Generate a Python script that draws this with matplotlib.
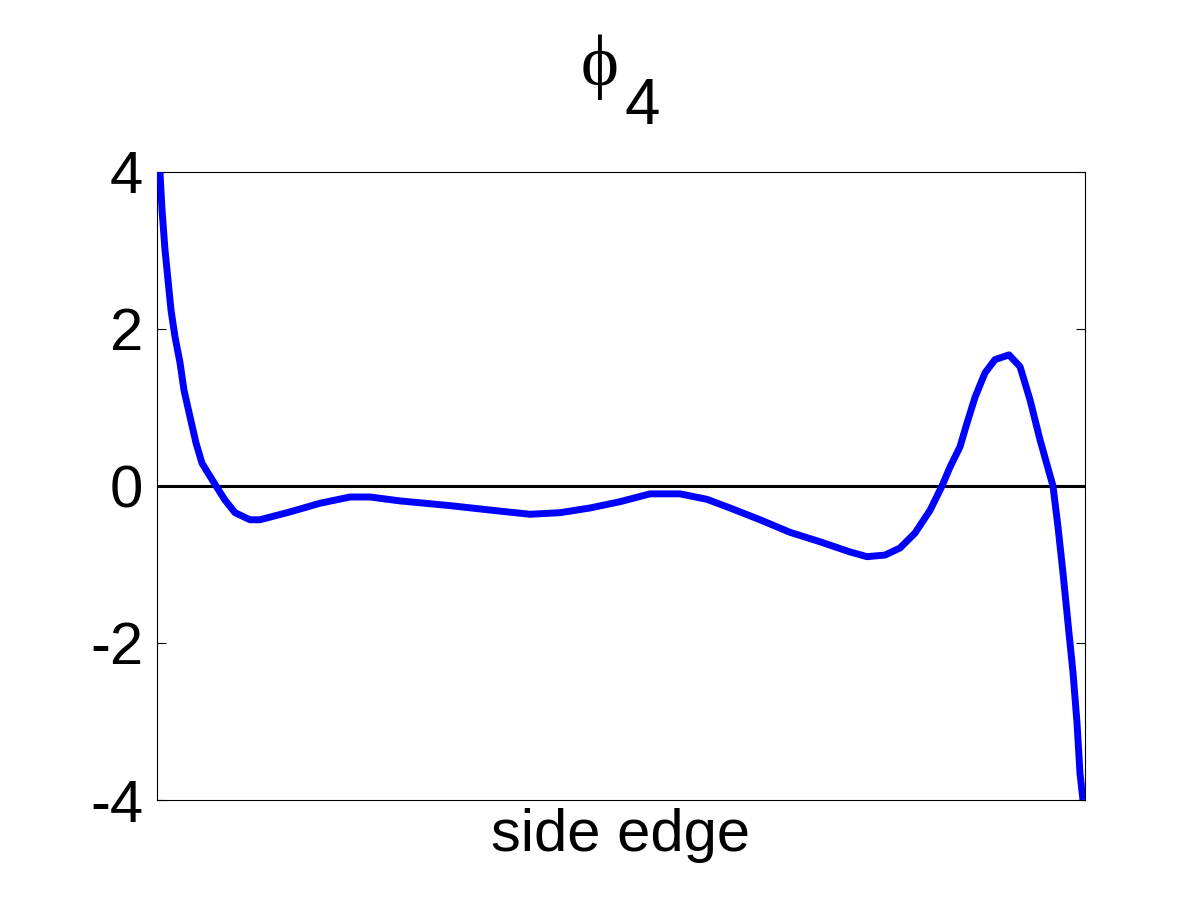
import matplotlib
matplotlib.use('Agg')
import matplotlib.pyplot as plt

#==============================================================================
# data (position along side edge in %, mode shape value)
#==============================================================================
pos = [0.0, 0.32, 0.54, 0.86, 1.19, 1.51, 1.94, 2.48, 2.91, 3.56, 4.20, 4.85,
       6.36, 7.33, 8.41, 10.02, 11.10, 14.33, 17.56, 20.80, 22.95, 26.19,
       31.57, 36.96, 40.19, 43.43, 46.66, 49.89, 53.13, 56.36, 59.27, 61.75,
       64.98, 68.21, 71.44, 74.68, 76.51, 78.45, 80.06, 81.68, 83.30, 84.59,
       85.45, 86.53, 87.28, 88.15, 89.22, 90.30, 91.81, 93.00, 94.07, 95.15,
       96.55, 97.09, 97.63, 98.17, 98.71, 99.14, 99.46, 99.78]
phi4 = [4.40, 4.00, 3.52, 3.01, 2.62, 2.24, 1.90, 1.57, 1.22, 0.88, 0.55, 0.29,
        0.00, -0.18, -0.34, -0.43, -0.43, -0.33, -0.22, -0.14, -0.14, -0.19,
        -0.25, -0.32, -0.36, -0.34, -0.28, -0.20, -0.10, -0.10, -0.17, -0.28,
        -0.43, -0.59, -0.71, -0.84, -0.90, -0.88, -0.79, -0.60, -0.31, 0.00,
        0.24, 0.50, 0.80, 1.13, 1.44, 1.61, 1.67, 1.52, 1.10, 0.59,
        0.00, -0.52, -1.11, -1.75, -2.38, -3.02, -3.66, -4.00]
yticks = [-4, -2, 0, 2, 4]

#==============================================================================
# plot
#==============================================================================
plt.rcParams['font.family'] = ['Liberation Sans', 'DejaVu Sans']

fig = plt.figure(figsize=(12, 9), dpi=100)
ax = fig.add_axes([157/1200, 100/900, 928/1200, 628/900])

ax.axhline(0, color='black', lw=2.2, zorder=2)
ax.plot(pos, phi4, color='#0000ff', lw=5, solid_capstyle='butt', zorder=3)

ax.set_xlim(0, 100)
ax.set_ylim(-4, 4)
ax.set_xticks([])
ax.set_yticks(yticks)
ax.set_yticklabels([str(t) for t in yticks])
ax.tick_params(axis='y', direction='in', length=6.5, width=0.8, labelsize=43,
               pad=10, right=True)
for s in ax.spines.values():
    s.set_linewidth(0.8)

ax.set_xlabel('side edge', fontsize=43, labelpad=6)

# title: phi with subscript 4
fig.text(0.5, 0.906, '\u03d5', fontsize=52, ha='center', va='baseline',
         family=['Liberation Serif', 'DejaVu Serif'])
fig.text(0.52, 0.862, '4', fontsize=46, ha='left', va='baseline')

fig.savefig('out.png', dpi=100)
